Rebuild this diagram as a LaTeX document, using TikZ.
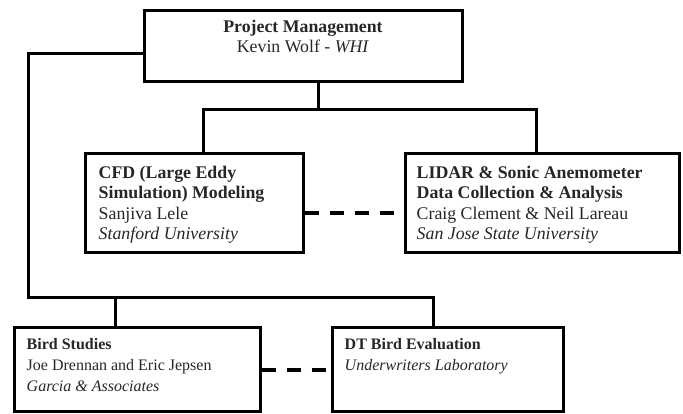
\documentclass[tikz,border=0pt]{standalone}
\usepackage{fontspec}
\setmainfont{Liberation Serif}
\usetikzlibrary{positioning,calc}
\tikzset{
  box/.style={draw,line width=3pt,inner sep=0pt},
  boxtxt/.style={anchor=north west,inner sep=0pt,align=left,text=black!85},
  lowtxt/.style={boxtxt,font=\fontsize{16}{21}\selectfont},
  wire/.style={line width=3pt},
  link/.style={line width=4pt,dash pattern=on 14pt off 11pt},
  every node/.style={font=\fontsize{17.8}{20.5}\selectfont}
}

\begin{document}
\begin{tikzpicture}[x=1pt,y=-1pt]
\useasboundingbox (0,0) rectangle (683,413);

% boxes
\node[box,minimum width=318pt,minimum height=71pt] (pm) at (303,45.5) {};
\node[box,minimum width=218pt,minimum height=99pt] (cfd) at (194,202.5) {};
\node[box,minimum width=274pt,minimum height=99pt] (lidar) at (542,202.5) {};
\node[box,minimum width=246pt,minimum height=84pt] (bird) at (137,369) {};
\node[box,minimum width=231pt,minimum height=84pt] (dt) at (447.5,369) {};

% box texts
\node[align=center,inner sep=0pt,text=black!85] (pmtxt) at ([yshift=-28pt]pm.north)
  {\textbf{Project Management}\\Kevin Wolf - \textit{WHI}};
\node[boxtxt] (cfdtxt) at ([shift={(15pt,-14pt)}]cfd.north west)
  {\textbf{CFD (Large Eddy}\\\textbf{Simulation) Modeling}\\Sanjiva Lele\\\textit{Stanford University}};
\node[boxtxt] (lidartxt) at ([shift={(13pt,-14pt)}]lidar.north west)
  {\textbf{LIDAR \& Sonic Anemometer}\\\textbf{Data Collection \& Analysis}\\Craig Clement \& Neil Lareau\\\textit{San Jose State University}};
\node[lowtxt] (birdtxt) at ([shift={(14pt,-13pt)}]bird.north west)
  {\textbf{Bird Studies}\\Joe Drennan and Eric Jepsen\\\textit{Garcia \& Associates}};
\node[lowtxt] (dttxt) at ([shift={(14pt,-13pt)}]dt.north west)
  {\textbf{DT Bird Evaluation}\\\textit{Underwriters Laboratory}};

% tree under project management
\coordinate (hub) at (318,109);
\coordinate (lbar) at (203,109);
\coordinate (rbar) at (536,109);
\draw[wire] (hub |- pm.south) -- (hub);
\draw[wire] (lbar |- cfd.north) -- (lbar) -- (rbar) -- (rbar |- lidar.north);

% left branch down to the bird tasks
\coordinate (lcorner) at (28,53);
\coordinate (lbus) at (28,297);
\coordinate (bstem) at (115,297);
\coordinate (dstem) at (433,297);
\draw[wire] (lcorner -| pm.west) -- (lcorner) -- (lbus) -- (dstem) -- (dstem |- dt.north);
\draw[wire] (bstem) -- (bstem |- bird.north);

% coordination (dashed)
\draw[link] ([yshift=-10.5pt]cfd.east) -- ([yshift=-10.5pt]lidar.west);
\draw[link] ([yshift=-1pt]bird.east) -- ([yshift=-1pt]dt.west);
\end{tikzpicture}
\end{document}
